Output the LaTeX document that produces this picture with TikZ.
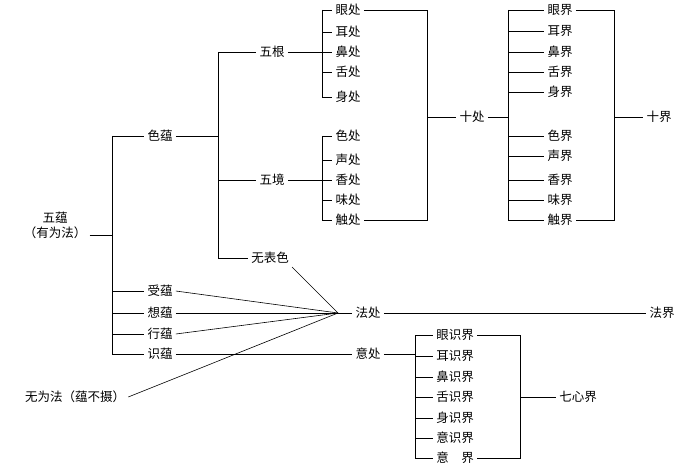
\documentclass[tikz,border=0pt]{standalone}
\usepackage{fontspec}
\setmainfont{Noto Sans CJK SC}
\begin{document}
\begin{tikzpicture}[x=1pt,y=-1pt,semithick,
    every node/.style={font=\fontsize{12.5}{15}\selectfont, inner sep=3pt},
    lbl/.style={anchor=center}]
    \useasboundingbox (0,0) rectangle (700,470);

    % left side
    \node[align=center] (wy) at (55,225) {五蕴\\（有为法）};
    \node (se) at (160,136) {色蕴};
    \node (shou) at (160,291) {受蕴};
    \node (xiang) at (160,313) {想蕴};
    \node (xing) at (160,334) {行蕴};
    \node (shi) at (160,354) {识蕴};
    \node (wwf) at (75,397) {无为法（蕴不摄）};

    \node (wg) at (272,52) {五根};
    \node (wj) at (272,180) {五境};
    \node (wbs) at (270,258) {无表色};

    \draw (wy.east |- 0,235) -- (112,235);
    \draw (112,136) -- (112,354);
    \foreach \n in {se,shou,xiang,xing,shi} \draw (112,0 |- \n) -- (\n.west);

    \draw (se.east) -- (218,136);
    \draw (218,52) -- (218,258);
    \foreach \n in {wg,wj,wbs} \draw (218,0 |- \n) -- (\n.west);

    % 十处
    \foreach \t/\y [count=\i] in {眼处/10,耳处/32,鼻处/52,舌处/72,身处/97,色处/136,声处/160,香处/180,味处/200,触处/220}
      {\node (c\i) at (348,\y) {\t};
       \draw (322,\y) -- (c\i.west);}
    \draw (wg.east) -- (322,52);
    \draw (wj.east) -- (322,180);
    \draw (322,10) -- (322,97);
    \draw (322,136) -- (322,220);
    \draw (c1.east) -- (427,10) -- (427,220) -- (c10.east);
    \node (sc) at (472,117) {十处};
    \draw (427,117) -- (sc.west);

    % 十界
    \foreach \t/\y [count=\i] in {眼界/10,耳界/31,鼻界/52,舌界/72,身界/92,色界/136,声界/156,香界/180,味界/200,触界/220}
      {\node (j\i) at (560,\y) {\t};
       \draw (508,\y) -- (j\i.west);}
    \draw (508,10) -- (508,220);
    \draw (sc.east) -- (508,117);
    \draw (j1.east) -- (614,10) -- (614,220) -- (j10.east);
    \node (sj) at (659,117) {十界};
    \draw (614,117) -- (sj.west);

    % 法处
    \coordinate (P) at (338,313);
    \node (fc) at (368,313) {法处};
    \node (fj) at (662,313) {法界};
    \foreach \n in {shou,xiang,xing} \draw (\n.east) -- (P);
    \draw (wbs.south east) -- (P);
    \draw (wwf.east) -- (P);
    \draw (P) -- (fc.west);
    \draw (fc.east) -- (fj.west);

    % 意处
    \node (yc) at (368,354) {意处};
    \draw (shi.east) -- (yc.west);
    \foreach \t/\y [count=\i] in {眼识界/335,耳识界/356,鼻识界/377,舌识界/397,身识界/418,意识界/438,意\quad 界/458}
      {\node (s\i) at (455,\y) {\t};
       \draw (415,\y) -- (s\i.west);}
    \draw (yc.east) -- (415,354);
    \draw (415,335) -- (415,458);
    \draw (s1.east) -- (520,335) -- (520,458) -- (s7.east);
    \node (qx) at (578,397) {七心界};
    \draw (520,397) -- (qx.west);
\end{tikzpicture}
\end{document}
